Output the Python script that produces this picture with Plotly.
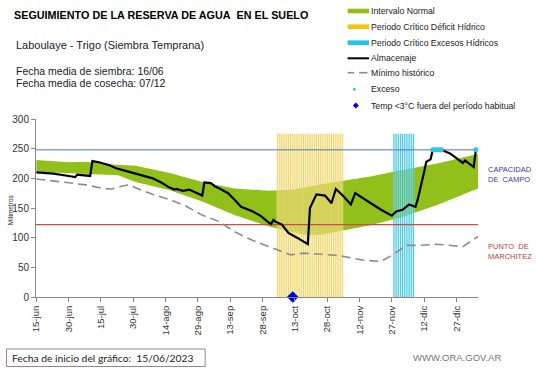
import pandas as pd
import plotly.graph_objects as go

# ------------------------------------------------------------------ data
almacenaje_fechas = [
    "2023-06-15", "2023-06-23", "2023-06-30", "2023-07-03", "2023-07-04", "2023-07-06",
    "2023-07-10", "2023-07-11", "2023-07-14", "2023-07-19", "2023-07-22", "2023-07-26",
    "2023-07-31", "2023-08-08", "2023-08-12", "2023-08-15", "2023-08-18", "2023-08-19",
    "2023-08-22", "2023-08-25", "2023-08-31", "2023-09-01", "2023-09-04", "2023-09-06",
    "2023-09-08", "2023-09-12", "2023-09-15", "2023-09-18", "2023-09-23", "2023-09-27",
    "2023-10-01", "2023-10-02", "2023-10-03", "2023-10-04", "2023-10-07", "2023-10-10",
    "2023-10-14", "2023-10-19", "2023-10-20", "2023-10-23", "2023-10-27", "2023-10-30",
    "2023-11-01", "2023-11-04", "2023-11-08", "2023-11-10", "2023-11-16", "2023-11-22",
    "2023-11-27", "2023-11-29", "2023-12-02", "2023-12-05", "2023-12-08", "2023-12-09",
    "2023-12-12", "2023-12-13", "2023-12-15", "2023-12-16", "2023-12-20", "2023-12-24",
    "2023-12-30", "2023-12-31", "2024-01-04", "2024-01-05",
]
almacenaje_mm = [
    210, 208, 204, 202, 206, 205,
    204, 229, 227, 222, 217, 213,
    208, 200, 193, 186, 181, 182,
    179, 181, 171, 193, 192, 186,
    183, 175, 164, 152, 145, 137,
    125, 123, 130, 127, 122, 108,
    100, 89, 150, 173, 171, 158,
    182, 172, 156, 175, 161, 147,
    137, 144, 147, 156, 152, 164,
    211, 228, 232, 248, 248, 242,
    226, 230, 219, 248,
]

minimo_fechas = [
    "2023-06-15", "2023-06-30", "2023-07-08", "2023-07-16", "2023-07-20", "2023-07-25",
    "2023-07-28", "2023-07-31", "2023-08-08", "2023-08-16", "2023-08-23", "2023-08-31",
    "2023-09-08", "2023-09-15", "2023-09-23", "2023-09-28", "2023-10-05", "2023-10-11",
    "2023-10-17", "2023-11-02", "2023-11-14", "2023-11-22", "2023-11-26", "2023-12-04",
    "2023-12-10", "2023-12-18", "2023-12-30", "2024-01-06",
]
minimo_mm = [
    199, 192, 189, 183, 182, 187,
    189, 184, 173, 164, 154, 138,
    127, 110, 96, 89, 79, 71,
    74, 70, 62, 60, 68, 87,
    87, 89, 85, 102,
]

normal_sup_fechas = [
    "2023-06-15", "2023-06-30", "2023-07-08", "2023-07-16", "2023-07-31", "2023-08-16",
    "2023-08-31", "2023-09-15", "2023-10-01", "2023-10-13", "2023-10-24", "2023-11-17",
    "2023-12-02", "2023-12-18", "2024-01-06",
]
normal_sup_mm = [231, 227, 228, 224, 221, 209, 194, 183, 179, 181, 189, 203, 214, 225, 241]

normal_inf_fechas = [
    "2023-06-15", "2023-06-30", "2023-07-16", "2023-07-23", "2023-07-31", "2023-08-16",
    "2023-08-31", "2023-09-15", "2023-10-01", "2023-10-17", "2023-10-25", "2023-11-17",
    "2023-12-02", "2023-12-18", "2024-01-06",
]
normal_inf_mm = [211, 208, 206, 205, 194, 180, 161, 138, 119, 105, 105, 121, 135, 155, 183]

deficit_inicio, deficit_fin = "2023-10-05", "2023-11-04"
excesos_inicio, excesos_fin = "2023-11-28", "2023-12-07"
periodo_altura = 275

capacidad_campo = 248
punto_marchitez = 122

exceso_fechas = ["2023-12-16", "2023-12-17", "2023-12-18", "2023-12-19", "2023-12-20", "2024-01-05"]
exceso_mm = [248, 248, 248, 248, 248, 248]

temp_fechas = ["2023-10-12"]
temp_mm = [0]

tick_fechas = [
    "2023-06-15", "2023-06-30", "2023-07-15", "2023-07-30", "2023-08-14", "2023-08-29",
    "2023-09-13", "2023-09-28", "2023-10-13", "2023-10-28", "2023-11-12", "2023-11-27",
    "2023-12-12", "2023-12-27",
]
tick_textos = [
    "15-jun", "30-jun", "15-jul", "30-jul", "14-ago", "29-ago", "13-sep", "28-sep",
    "13-oct", "28-oct", "12-nov", "27-nov", "12-dic", "27-dic",
]
y_ticks = [0, 50, 100, 150, 200, 250, 300]

x_inicio, x_fin = "2023-06-14 20:00", "2024-01-06 00:00"

# ------------------------------------------------------------------ layout helpers
W, H = 541, 368
ML, MR, MT, MB = 33, 63, 119, 71
PW, PH = W - ML - MR, H - MT - MB


def px(x):
    return (x - ML) / PW


def py(y):
    return (H - MB - y) / PH


FONT = "Liberation Sans, Arial, sans-serif"
GREEN = "#92C01A"

fig = go.Figure()

# normal interval band
band_x = normal_sup_fechas + normal_inf_fechas[::-1]
band_y = normal_sup_mm + normal_inf_mm[::-1]
fig.add_trace(go.Scatter(x=band_x, y=band_y, fill="toself", fillcolor=GREEN,
                         mode="lines", line=dict(width=0), hoverinfo="skip"))


def add_period(start, end, height, bg, stripe):
    days = pd.date_range(start, end, freq="D")
    half = pd.Timedelta(hours=12)
    x0, x1 = days[0] - half, days[-1] + half
    fig.add_trace(go.Scatter(x=[x0, x1, x1, x0, x0], y=[0, 0, height, height, 0],
                             fill="toself", fillcolor=bg, mode="lines",
                             line=dict(width=0), hoverinfo="skip"))
    xs, ys = [], []
    for d in days:
        xs += [d, d, None]
        ys += [0, height, None]
    fig.add_trace(go.Scatter(x=xs, y=ys, mode="lines",
                             line=dict(color=stripe, width=1), hoverinfo="skip"))


add_period(deficit_inicio, deficit_fin, periodo_altura,
           "rgba(250,236,165,0.50)", "rgba(234,206,85,0.85)")
add_period(excesos_inicio, excesos_fin, periodo_altura,
           "rgba(175,232,242,0.50)", "rgba(40,190,218,0.85)")

# reference lines
fig.add_trace(go.Scatter(x=[x_inicio, x_fin], y=[capacidad_campo, capacidad_campo],
                         mode="lines", line=dict(color="#4A74C9", width=1), hoverinfo="skip"))
fig.add_trace(go.Scatter(x=[x_inicio, x_fin], y=[punto_marchitez, punto_marchitez],
                         mode="lines", line=dict(color="#C0504D", width=1.3), hoverinfo="skip"))

# minimum historic
fig.add_trace(go.Scatter(x=minimo_fechas, y=minimo_mm, mode="lines",
                         line=dict(color="#8C8C8C", width=1.6, dash="9px,5px"),
                         hoverinfo="skip"))

# storage
fig.add_trace(go.Scatter(x=almacenaje_fechas, y=almacenaje_mm, mode="lines",
                         line=dict(color="#000000", width=2.2), hoverinfo="skip"))

# excess markers
fig.add_trace(go.Scatter(x=exceso_fechas, y=exceso_mm, mode="markers",
                         marker=dict(color="#2EC4EA", size=5), hoverinfo="skip"))

# temperature markers
fig.add_trace(go.Scatter(x=temp_fechas, y=temp_mm, mode="markers", cliponaxis=False,
                         marker=dict(color="#0000F0", size=9, symbol="diamond"),
                         hoverinfo="skip"))

annotations = []
shapes = []


def text(x, y, s, size, color="#222", bold=False, family=FONT, anchor="left", **kw):
    if bold:
        s = "<b>" + s + "</b>"
    annotations.append(dict(xref="paper", yref="paper", x=px(x), y=py(y), text=s,
                            showarrow=False, xanchor=anchor, yanchor="middle",
                            font=dict(size=size, color=color, family=family), **kw))


# header texts
text(9, 15, "SEGUIMIENTO DE LA RESERVA DE AGUA\u00a0 EN EL SUELO", 10.8, "#000", bold=True)
text(11, 44.5, "Laboulaye - Trigo (Siembra Temprana)", 11, "#222")
text(11, 71, "Fecha media de siembra: 16/06", 10.5, "#222")
text(11, 83, "Fecha media de cosecha: 07/12", 10.5, "#222")

# legend (drawn)
LX0, LX1, TX = 346.7, 368.3, 368.5
legend_rows = [
    (11, "Intervalo Normal"),
    (26.7, "Periodo Crítico Déficit Hídrico"),
    (42.7, "Periodo Crítico Excesos Hídricos"),
    (58.3, "Almacenaje"),
    (72.7, "Mínimo histórico"),
    (89.3, "Exceso"),
    (105.5, "Temp <3°C fuera del período habitual"),
]
for yy, s in legend_rows:
    text(TX, yy, s, 8.7, "#222")

for yy, col in [(11, GREEN), (26.7, "#F5C211"), (42.7, "#1FC3EE")]:
    shapes.append(dict(type="rect", xref="paper", yref="paper", x0=px(LX0), x1=px(LX1),
                       y0=py(yy + 2.3), y1=py(yy - 2.3), fillcolor=col, line=dict(width=0)))
shapes.append(dict(type="line", xref="paper", yref="paper", x0=px(LX0), x1=px(LX1),
                   y0=py(58.3), y1=py(58.3), line=dict(color="#000", width=2)))
for a, b in [(346.7, 353.3), (358.3, 366.7)]:
    shapes.append(dict(type="line", xref="paper", yref="paper", x0=px(a), x1=px(b),
                       y0=py(72.7), y1=py(72.7), line=dict(color="#8C8C8C", width=1.6)))
shapes.append(dict(type="circle", xref="paper", yref="paper", x0=px(352), x1=px(355),
                   y0=py(90.8), y1=py(87.8), fillcolor="#2EC4EA", line=dict(width=0)))
cx, cy, r = 355, 105.5, 3
shapes.append(dict(type="path", xref="paper", yref="paper",
                   path=f"M {px(cx - r)},{py(cy)} L {px(cx)},{py(cy - r)} L {px(cx + r)},{py(cy)} L {px(cx)},{py(cy + r)} Z",
                   fillcolor="#0000F0", line=dict(width=0)))

# right-side labels
text(486, 174.5, "CAPACIDAD<br>DE\u00a0 CAMPO", 7.5, "#3A3AB8", align="left")
text(486, 251, "PUNTO\u00a0 DE<br>MARCHITEZ", 7.5, "#C03A3A", align="left")

# y title
text(7, 210, "Milímetros", 6.5, "#222", anchor="center", textangle=-90)

# bottom box
shapes.append(dict(type="rect", xref="paper", yref="paper", x0=px(3.3), x1=px(203.3),
                   y0=py(366.5), y1=py(349), line=dict(color="#A08585", width=1),
                   fillcolor="rgba(0,0,0,0)"))
text(6.5, 357.5, "Fecha de inicio del gráfico:\u00a0 15/06/2023", 10.3, "#222", family="Lato, sans-serif")
text(411, 357.5, "WWW.ORA.GOV.AR", 9.5, "#777")

fig.update_layout(
    width=W, height=H,
    margin=dict(l=ML, r=MR, t=MT, b=MB, pad=0),
    paper_bgcolor="white", plot_bgcolor="white",
    showlegend=False,
    annotations=annotations,
    shapes=shapes,
    font=dict(family=FONT),
    xaxis=dict(type="date", range=[x_inicio, x_fin], tickvals=tick_fechas, ticktext=tick_textos,
               tickangle=-90, ticks="outside", ticklen=4, tickcolor="#888",
               showline=True, linecolor="#888", linewidth=1, showgrid=False, zeroline=False,
               tickfont=dict(size=9.5, color="#333", family=FONT)),
    yaxis=dict(range=[0, 300], tickvals=y_ticks, ticks="outside", ticklen=4, tickcolor="#888",
               showline=True, linecolor="#888", linewidth=1, showgrid=False, zeroline=False,
               tickfont=dict(size=10, color="#333", family=FONT)),
)

fig.write_html("out.html", config={"displayModeBar": False},
               post_script="document.body.style.margin='0';document.body.style.padding='0';")
